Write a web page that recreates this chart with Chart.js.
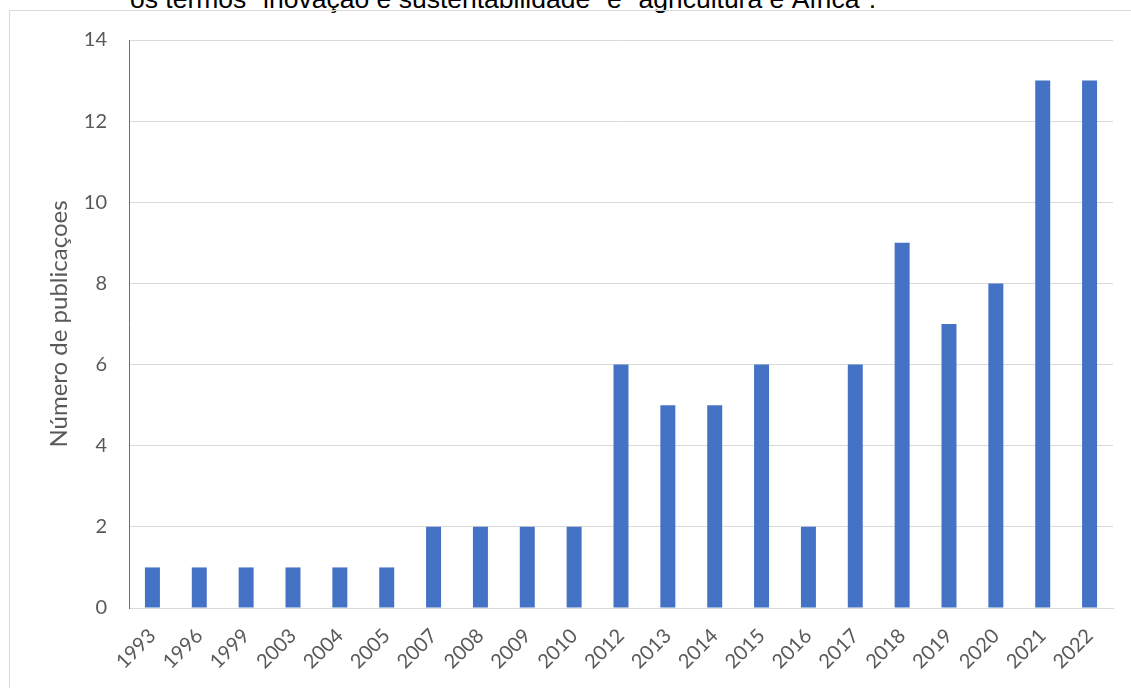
<!DOCTYPE html>
<html>
<head>
<meta charset="utf-8">
<script src="https://cdn.jsdelivr.net/npm/chart.js@4.4.1/dist/chart.umd.min.js"></script>
<style>
  html, body { margin: 0; padding: 0; background: #fff; overflow: hidden; }
  body { width: 1131px; height: 688px; position: relative; }
  #caption {
    position: absolute; left: 130px; top: -14px;
    font-family: "Liberation Sans", Arial, sans-serif; font-size: 26.5px; line-height: 26px;
    color: #000; white-space: nowrap;
  }
  #box {
    position: absolute; left: 9px; top: 10px; width: 1122px; height: 678px;
    border-left: 1px solid #d9d9d9; border-top: 1px solid #d9d9d9; box-sizing: border-box;
  }
  #wrap { position: absolute; left: 10px; top: 11px; width: 1121px; height: 677px; }
</style>
</head>
<body>
<div id="caption">os termos "inovação e sustentabilidade" e "agricultura e África".</div>
<div id="box"></div>
<div id="wrap"><canvas id="c" width="1121" height="677"></canvas></div>
<script>
const years = ["1993","1996","1999","2003","2004","2005","2007","2008","2009","2010","2012","2013","2014","2015","2016","2017","2018","2019","2020","2021","2022"];
const publications = [1,1,1,1,1,1,2,2,2,2,6,5,5,6,2,6,9,7,8,13,13];
const yTicks = [0,2,4,6,8,10,12,14];
const yTitle = "Número de publicaçoes";

const FONT = "Lato, 'Open Sans', sans-serif";
new Chart(document.getElementById('c'), {
  type: 'bar',
  data: {
    labels: years,
    datasets: [{
      data: publications,
      backgroundColor: '#4472C4',
      borderWidth: 0,
      barPercentage: 0.32,
      categoryPercentage: 1.0
    }]
  },
  options: {
    responsive: false,
    animation: false,
    devicePixelRatio: 1,
    layout: { padding: { top: 29, right: 18, left: 0, bottom: 0 } },
    plugins: { legend: { display: false }, tooltip: { enabled: false } },
    scales: {
      x: {
        grid: { display: false },
        border: { display: true, color: '#d9d9d9', width: 1 },
        ticks: {
          color: '#595959', font: { family: FONT, size: 20 },
          minRotation: 45, maxRotation: 45, autoSkip: false, padding: 8
        },
        afterFit: s => { s.height = 80; s.paddingLeft = 0; s.paddingRight = 0; }
      },
      y: {
        min: 0, max: 14,
        afterBuildTicks: s => { s.ticks = yTicks.map(v => ({ value: v })); },
        grid: { color: '#d9d9d9', lineWidth: 1, drawTicks: false },
        border: { display: true, color: '#4472C4', width: 1 },
        ticks: { color: '#595959', font: { family: FONT, size: 20 }, padding: 22 },
        title: {
          display: true, text: yTitle, color: '#595959',
          font: { family: FONT, size: 24 }, padding: { top: 35, bottom: 0 }
        },
        afterFit: s => { s.width = 119; s.paddingTop = 0; s.paddingBottom = 0; }
      }
    }
  }
});
</script>
</body>
</html>
